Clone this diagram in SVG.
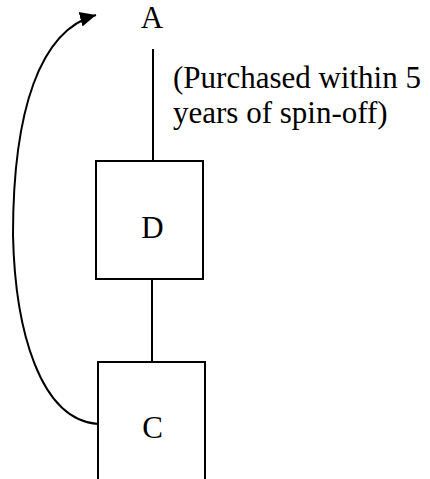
<svg xmlns="http://www.w3.org/2000/svg" width="430" height="479" viewBox="0 0 430 479">
<style>
.ln{fill:none;stroke:#000;stroke-width:2}
.t{font-family:'Liberation Serif','Times New Roman',serif;font-size:31px;fill:#000}
.mid{text-anchor:middle}
</style>
<defs>
<marker id="ah" viewBox="0 0 16 16" refX="16" refY="8" markerWidth="16" markerHeight="16" markerUnits="userSpaceOnUse" orient="auto">
<path d="M0,0.5 L16,8 L0,15.5 Z" fill="#000"/>
</marker>
</defs>
<rect width="430" height="479" fill="#fff"/>
<g id="connectors">
<line class="ln" x1="153" y1="49" x2="153" y2="161"/>
<line class="ln" x1="152" y1="280" x2="152" y2="362"/>
<path class="ln" d="M98,424 C40,420 15,330 13,235 C13,110 40,30 96,15" marker-end="url(#ah)"/>
</g>
<g id="A">
<text class="t mid" x="152" y="28">A</text>
</g>
<g id="label">
<text class="t" x="173" y="88">(Purchased within 5</text>
<text class="t" x="173" y="123">years of spin-off)</text>
</g>
<g id="D">
<rect class="ln" x="96" y="161" width="107" height="118"/>
<text class="t mid" x="152.5" y="238">D</text>
</g>
<g id="C">
<path class="ln" d="M98,479 V362 H205 V479"/>
<text class="t mid" x="152.5" y="438">C</text>
</g>
</svg>
